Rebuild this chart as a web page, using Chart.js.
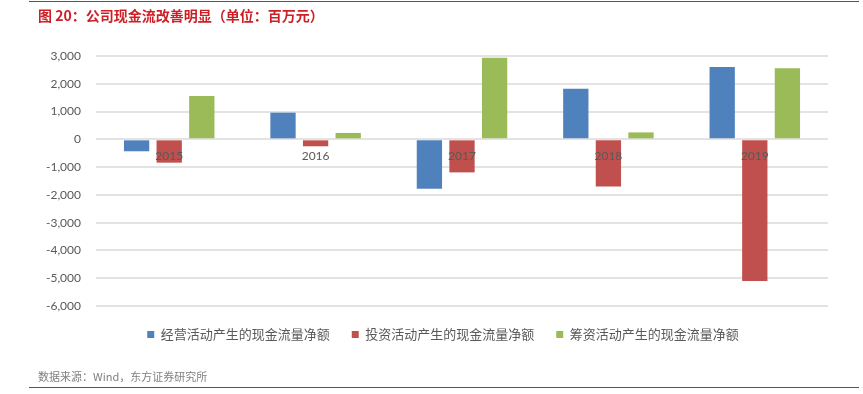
<!DOCTYPE html>
<html>
<head>
<meta charset="utf-8">
<script src="https://cdn.jsdelivr.net/npm/chart.js@4/dist/chart.umd.min.js"></script>
<style>
  body { margin: 0; background: #fff; }
  .page { position: relative; width: 863px; height: 394px; overflow: hidden; }
  .page canvas { position: absolute; left: 0; top: 0; }
  .rule { position: absolute; left: 29px; width: 830px; height: 1px; background: #d0202a; }
  .title { position: absolute; left: 38px; top: 5px; font: bold 14px "Noto Sans CJK SC", sans-serif; color: #cc1f26; white-space: nowrap; }
  .source { position: absolute; left: 38px; top: 368px; font: 11px "Noto Sans CJK SC", sans-serif; color: #808080; white-space: nowrap; }
</style>
</head>
<body>
<div class="page">
  <canvas id="cashChart" width="863" height="394"></canvas>
  <div class="rule" style="top:1px"></div>
  <div class="title">图 20：公司现金流改善明显（单位：百万元）</div>
  <div class="source">数据来源：Wind，东方证券研究所</div>
  <div class="rule" style="top:387px"></div>
</div>
<script>
// data (百万元)
var years = ['2015', '2016', '2017', '2018', '2019'];
var operating = [-430, 960, -1780, 1820, 2600];
var investing = [-840, -250, -1190, -1700, -5100];
var financing = [1560, 230, 2940, 250, 2560];
var yTicks = [3000, 2000, 1000, 0, -1000, -2000, -3000, -4000, -5000, -6000];

var grey = '#595959';

// legend sits a bit right of the canvas centre in the original
var legendShift = {
  id: 'legendShift',
  afterLayout: function (chart) {
    chart.legend.left += 29;
    chart.legend.right += 29;
  }
};

var ctx = document.getElementById('cashChart');
var myChart = new Chart(ctx, {
  type: 'bar',
  data: {
    labels: years,
    datasets: [{
        label: '经营活动产生的现金流量净额',
        data: operating,
        backgroundColor: '#4f81bd'
      },
      {
        label: '投资活动产生的现金流量净额',
        data: investing,
        backgroundColor: '#c0504d'
      },
      {
        label: '筹资活动产生的现金流量净额',
        data: financing,
        backgroundColor: '#9bbb59'
      }
    ]
  },
  plugins: [legendShift],
  options: {
    responsive: false,
    animation: false,
    devicePixelRatio: 1,
    categoryPercentage: 0.668,
    barPercentage: 0.776,
    layout: {
      padding: {left: 0, right: 35, top: 56, bottom: 43}
    },
    scales: {
      x: {
        position: {y: 0},
        grid: {display: false},
        border: {display: false},
        ticks: {
          z: 1, // year labels sit on top of the bars
          color: grey,
          padding: 2,
          font: {family: 'Lato', size: 12}
        }
      },
      y: {
        min: yTicks[yTicks.length - 1],
        max: yTicks[0],
        afterFit: function (scale) {
          scale.width = 96;
        },
        afterBuildTicks: function (scale) {
          scale.ticks = yTicks.map(function (v) { return {value: v}; });
        },
        grid: {color: '#e3e3e3', lineWidth: 2, drawTicks: false},
        border: {display: false},
        ticks: {
          color: grey,
          padding: 15,
          font: {family: 'Lato', size: 12},
          callback: function (v) { return v.toLocaleString('en-US'); }
        }
      }
    },
    plugins: {
      legend: {
        position: 'bottom',
        labels: {
          boxWidth: 7,
          boxHeight: 7,
          padding: 22,
          color: grey,
          font: {family: 'Noto Sans CJK SC', size: 13}
        }
      },
      tooltip: {
        enabled: false
      }
    }
  }
});
</script>
</body>
</html>
